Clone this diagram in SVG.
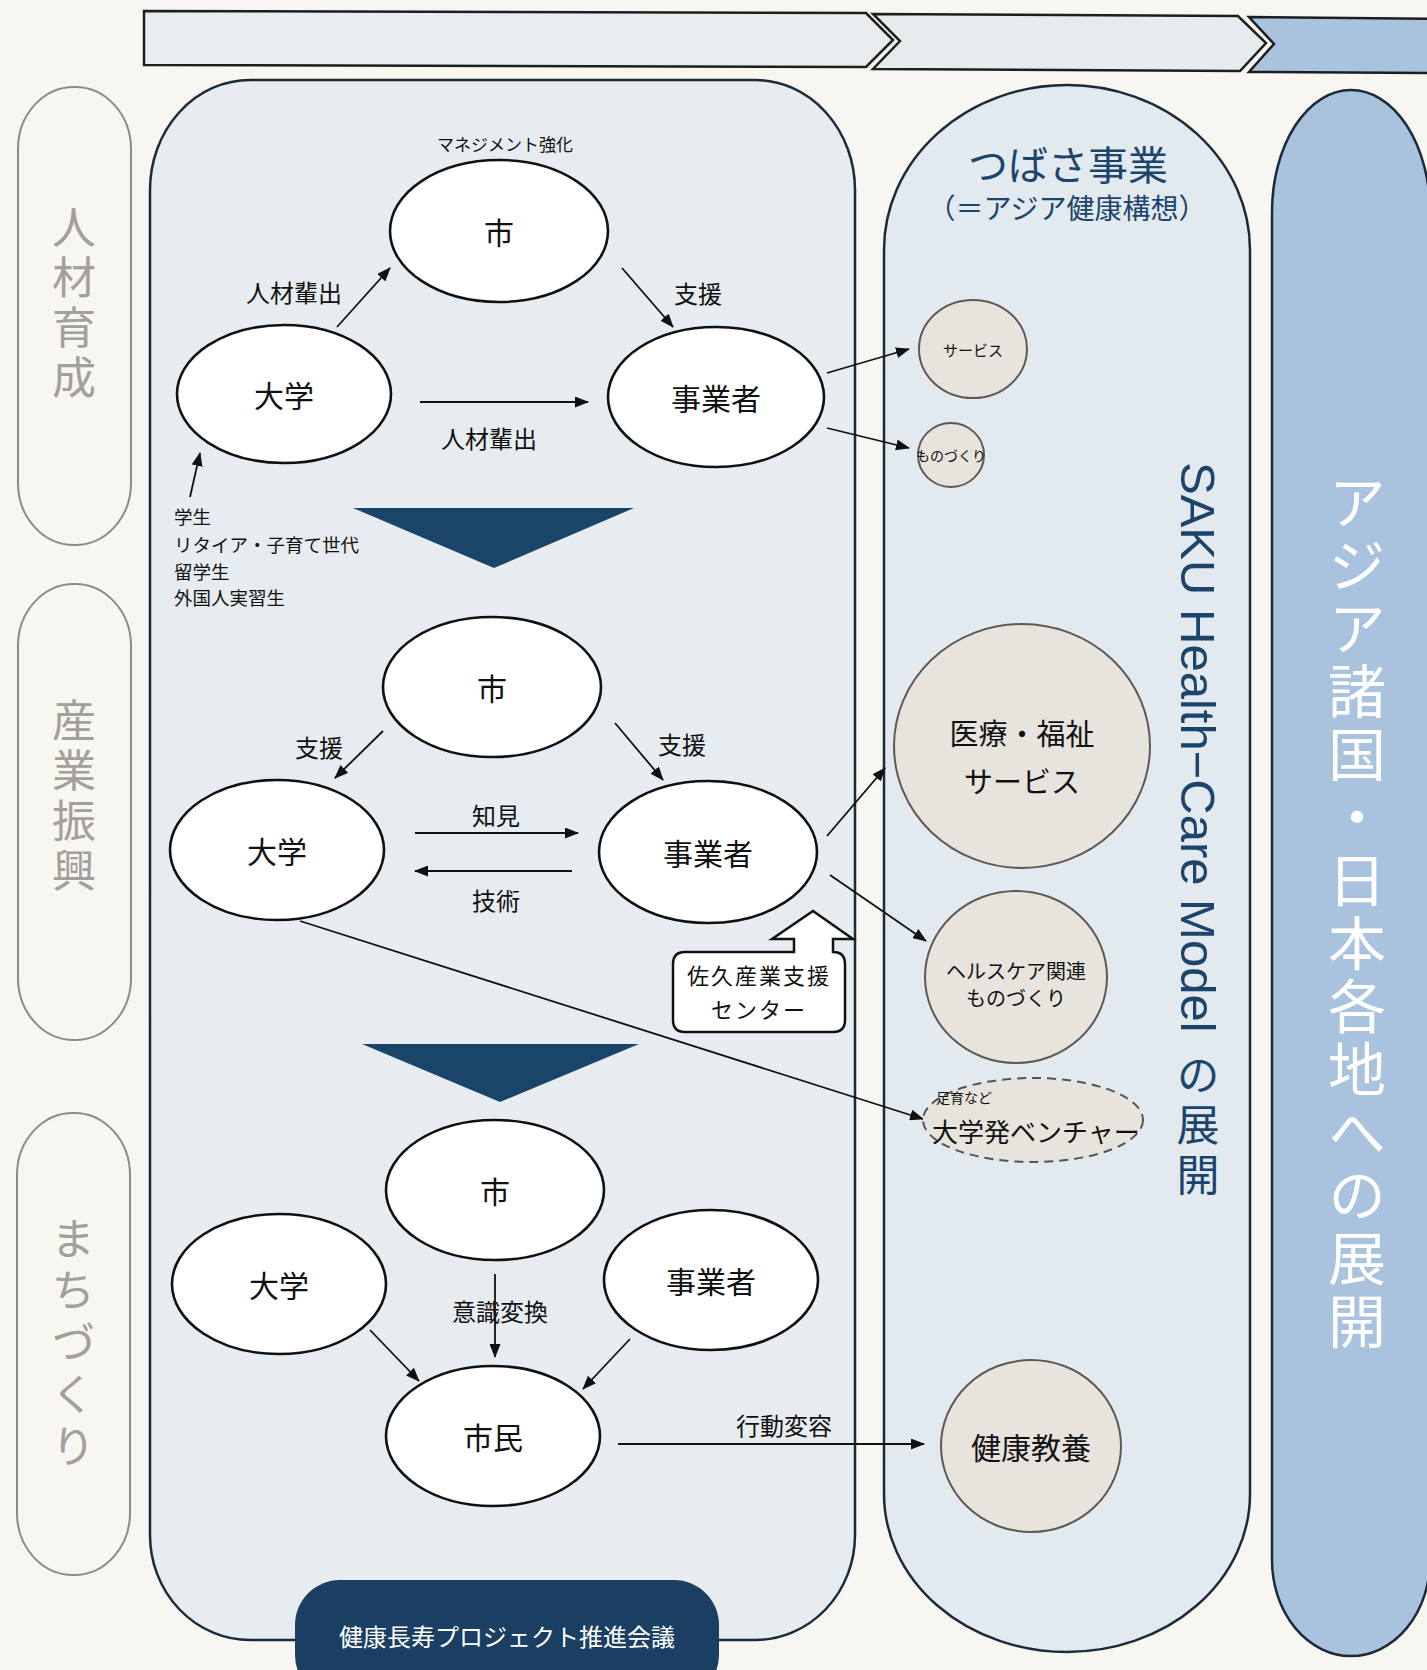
<svg xmlns="http://www.w3.org/2000/svg" width="1427" height="1670" viewBox="0 0 1427 1670">
<defs>
<marker id="ah" markerUnits="userSpaceOnUse" markerWidth="14" markerHeight="11" refX="13" refY="5.5" orient="auto">
<path d="M0,0 L14,5.5 L0,11 Z" fill="#111"/>
</marker>
<style>
text{font-family:"Noto Sans CJK JP","Noto Sans CJK SC",sans-serif;}
.lat{font-family:"Liberation Sans","Noto Sans CJK JP",sans-serif;}
.wn{fill:#fff;stroke:#111;stroke-width:2.6;}
.gn{fill:#e7e3dd;stroke:#5e5954;stroke-width:2;}
.nl{font-size:30px;fill:#111;text-anchor:middle;dominant-baseline:central;}
.lb{font-size:24px;fill:#111;text-anchor:middle;dominant-baseline:central;}
.sm{font-size:18.5px;fill:#111;}
.vert{writing-mode:vertical-rl;}
.side{font-size:44px;fill:#a39f9b;}
.blue{font-size:58px;fill:#ffffff;}
.navy{fill:#1d456b;}
.con{stroke:#111;stroke-width:1.8;fill:none;marker-end:url(#ah);}
.chev{stroke:#1e1e1e;stroke-width:2.5;}
</style>
</defs>
<rect x="0" y="0" width="1427" height="1670" fill="#f7f6f0"/>

<g id="timeline">
<path class="chev" d="M144,11 L866,13 L893,40 L866,67 L144,65 Z" fill="#e9edef"/>
<path class="chev" d="M873,14 L1238,16 L1266,43 L1240,71 L873,69 L900,41 Z" fill="#e6ebee"/>
<path class="chev" d="M1249,17 L1440,19 L1440,73 L1249,72 L1274,44 Z" fill="#a9c3de"/>
</g>

<g id="side-labels">
<g id="label-jinzai">
<rect x="18" y="87" width="113" height="458" rx="56" ry="62" fill="#f8f6f0" stroke="#8f8b87" stroke-width="2"/>
<text class="side vert" x="74" y="205" letter-spacing="6">人材育成</text>
</g>
<g id="label-sangyo">
<rect x="18" y="584" width="113" height="456" rx="56" ry="62" fill="#f8f6f0" stroke="#8f8b87" stroke-width="2"/>
<text class="side vert" x="74" y="698" letter-spacing="6">産業振興</text>
</g>
<g id="label-machi">
<rect x="17" y="1113" width="113" height="462" rx="56" ry="62" fill="#f8f6f0" stroke="#8f8b87" stroke-width="2"/>
<text class="side vert" x="73" y="1216" letter-spacing="8">まちづくり</text>
</g>
</g>

<g id="panel-main">
<path d="M150,190 A100,110 0 0 1 250,80 H755 A100,110 0 0 1 855,190 V1535 A100,105 0 0 1 755,1640 H250 A100,105 0 0 1 150,1535 Z" fill="#e6ecef" stroke="#1c2b3a" stroke-width="2.5"/>
</g>

<g id="panel-tsubasa">
<path d="M884,250 A183,165 0 0 1 1250,250 V1494 A183,158 0 0 1 884,1494 Z" fill="#e2e9ef" stroke="#1c2b3a" stroke-width="2.5"/>
<text class="navy" x="1068" y="163" font-size="40" text-anchor="middle" dominant-baseline="central">つばさ事業</text>
<text class="navy" x="1067" y="207" font-size="28" text-anchor="middle" dominant-baseline="central">（＝アジア健康構想）</text>
<text class="lat navy" font-size="49" transform="translate(1181,462) rotate(90)">SAKU Health−Care Model</text>
<text class="navy vert" font-size="43" x="1198" y="1053" letter-spacing="7">の展開</text>
</g>

<g id="panel-asia">
<path d="M1272,212 A79,122 0 0 1 1430,212 V1560 A79,96 0 0 1 1272,1560 Z" fill="#a9c3de" stroke="#1c2b3a" stroke-width="2.5"/>
<text class="blue vert" x="1357" y="473" letter-spacing="5">アジア諸国・日本各地への展開</text>
</g>

<g id="connectors">
<line class="con" x1="337" y1="327" x2="390" y2="268"/>
<line class="con" x1="622" y1="268" x2="673" y2="327"/>
<line class="con" x1="420" y1="402" x2="588" y2="402"/>
<line class="con" x1="190" y1="497" x2="200" y2="453"/>
<line class="con" x1="827" y1="373" x2="909" y2="349"/>
<line class="con" x1="827" y1="428" x2="909" y2="448"/>
<line class="con" x1="383" y1="731" x2="335" y2="778"/>
<line class="con" x1="615" y1="723" x2="663" y2="780"/>
<line class="con" x1="415" y1="833" x2="578" y2="833"/>
<line class="con" x1="572" y1="871" x2="415" y2="871"/>
<line class="con" x1="827" y1="836" x2="885" y2="768"/>
<line class="con" x1="830" y1="875" x2="926" y2="941"/>
<line class="con" x1="300" y1="921" x2="923" y2="1119"/>
<line class="con" x1="495" y1="1274" x2="495" y2="1357"/>
<line class="con" x1="370" y1="1330" x2="419" y2="1381"/>
<line class="con" x1="630" y1="1339" x2="583" y2="1389"/>
<line class="con" x1="618" y1="1444" x2="924" y2="1444"/>
</g>

<g id="stage-arrows">
<path d="M353,508 L634,508 L494,568 Z" fill="#1b4568"/>
<path d="M362,1044 L639,1044 L500,1102 Z" fill="#1b4568"/>
</g>

<g id="section1-labels">
<text x="505" y="143" font-size="17" text-anchor="middle" dominant-baseline="central" fill="#111">マネジメント強化</text>
<text class="lb" x="294" y="291">人材輩出</text>
<text class="lb" x="698" y="292">支援</text>
<text class="lb" x="489" y="437">人材輩出</text>
<text class="sm" x="174" y="524">学生</text>
<text class="sm" x="174" y="552">リタイア・子育て世代</text>
<text class="sm" x="174" y="579">留学生</text>
<text class="sm" x="174" y="605">外国人実習生</text>
</g>

<g id="s1-shi"><ellipse class="wn" cx="499" cy="231" rx="109" ry="71"/><text class="nl" x="499" y="231">市</text></g>
<g id="s1-daigaku"><ellipse class="wn" cx="284" cy="394" rx="107" ry="69"/><text class="nl" x="284" y="394">大学</text></g>
<g id="s1-jigyosha"><ellipse class="wn" cx="716" cy="397" rx="108" ry="70"/><text class="nl" x="716" y="397">事業者</text></g>

<g id="section2-labels">
<text class="lb" x="319" y="746">支援</text>
<text class="lb" x="682" y="743">支援</text>
<text class="lb" x="496" y="814">知見</text>
<text class="lb" x="496" y="899">技術</text>
</g>

<g id="s2-shi"><ellipse class="wn" cx="492" cy="687" rx="109" ry="70"/><text class="nl" x="492" y="687">市</text></g>
<g id="s2-daigaku"><ellipse class="wn" cx="277" cy="850" rx="107" ry="70"/><text class="nl" x="277" y="850">大学</text></g>
<g id="s2-jigyosha"><ellipse class="wn" cx="708" cy="852" rx="109" ry="71"/><text class="nl" x="708" y="852">事業者</text></g>

<g id="saku-center">
<path d="M685,952 H794 V939 H772 L813,911 L853,939 H833 V952 Q845,952 845,964 V1020 Q845,1032 833,1032 H685 Q673,1032 673,1020 V964 Q673,952 685,952 Z" fill="#ffffff" stroke="#111" stroke-width="2.5"/>
<text x="759" y="974" font-size="22" letter-spacing="2" text-anchor="middle" dominant-baseline="central" fill="#111">佐久産業支援</text>
<text x="759" y="1008" font-size="22" letter-spacing="2" text-anchor="middle" dominant-baseline="central" fill="#111">センター</text>
</g>

<g id="section3-labels">
<text class="lb" x="500" y="1310">意識変換</text>
<text class="lb" x="784" y="1424">行動変容</text>
</g>

<g id="s3-shi"><ellipse class="wn" cx="495" cy="1190" rx="109" ry="70"/><text class="nl" x="495" y="1190">市</text></g>
<g id="s3-daigaku"><ellipse class="wn" cx="279" cy="1284" rx="107" ry="70"/><text class="nl" x="279" y="1284">大学</text></g>
<g id="s3-jigyosha"><ellipse class="wn" cx="711" cy="1280" rx="107" ry="70"/><text class="nl" x="711" y="1280">事業者</text></g>
<g id="s3-shimin"><ellipse class="wn" cx="493" cy="1436" rx="107" ry="70"/><text class="nl" x="493" y="1436">市民</text></g>

<g id="out-service"><ellipse class="gn" cx="973" cy="349" rx="54" ry="49"/><text x="973" y="349" font-size="15" text-anchor="middle" dominant-baseline="central" fill="#111">サービス</text></g>
<g id="out-monozukuri"><ellipse class="gn" cx="951" cy="455" rx="33" ry="32"/><text x="951" y="455" font-size="14" text-anchor="middle" dominant-baseline="central" fill="#111">ものづくり</text></g>
<g id="out-iryo"><ellipse class="gn" cx="1022" cy="746" rx="128" ry="122"/><text x="1022" y="732" font-size="29" text-anchor="middle" dominant-baseline="central" fill="#111">医療・福祉</text><text x="1022" y="780" font-size="29" text-anchor="middle" dominant-baseline="central" fill="#111">サービス</text></g>
<g id="out-healthcare"><ellipse class="gn" cx="1016" cy="977" rx="91" ry="86"/><text x="1016" y="970" font-size="20" text-anchor="middle" dominant-baseline="central" fill="#111">ヘルスケア関連</text><text x="1016" y="997" font-size="20" text-anchor="middle" dominant-baseline="central" fill="#111">ものづくり</text></g>
<g id="out-venture"><ellipse cx="1033" cy="1120" rx="110" ry="42" fill="#e7e3dd" stroke="#555" stroke-width="2" stroke-dasharray="9,6"/><text x="936" y="1097" font-size="14" dominant-baseline="central" fill="#111">足育など</text><text x="932" y="1130" font-size="26" dominant-baseline="central" fill="#111">大学発ベンチャー</text></g>
<g id="out-kenko"><ellipse class="gn" cx="1031" cy="1446" rx="90" ry="86"/><text x="1031" y="1446" font-size="30" text-anchor="middle" dominant-baseline="central" fill="#111">健康教養</text></g>

<g id="council">
<rect x="295" y="1580" width="424" height="120" rx="45" ry="45" fill="#1b3f62"/>
<text x="507" y="1635" font-size="24" text-anchor="middle" dominant-baseline="central" fill="#ffffff">健康長寿プロジェクト推進会議</text>
</g>
</svg>
